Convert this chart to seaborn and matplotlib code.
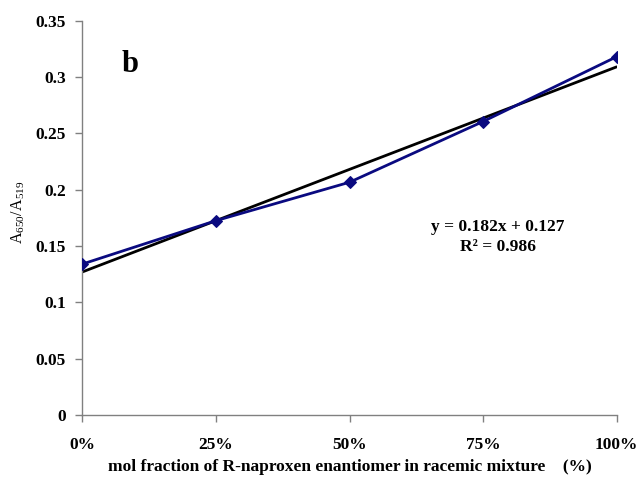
import matplotlib
matplotlib.use("Agg")
import matplotlib.pyplot as plt
import seaborn as sns
import numpy as np
import pandas as pd

# Measured absorbance ratio vs. mol fraction of R-naproxen
fraction_pct = [0, 25, 50, 75, 100]
ratio = [0.134, 0.1725, 0.2066, 0.2605, 0.318]
tick_labels = ["0%", "25%", "50%", "75%", "100%"]

# Linear trendline (x as fraction 0..1)
slope = 0.182
intercept = 0.127
r_squared = 0.986

sns.set_style("white")
plt.rcParams["font.family"] = ["Liberation Serif", "DejaVu Serif"]
plt.rcParams["mathtext.fontset"] = "custom"
plt.rcParams["mathtext.rm"] = "Liberation Serif"
plt.rcParams["mathtext.it"] = "Liberation Serif:italic"
plt.rcParams["text.color"] = "black"
plt.rcParams["axes.labelcolor"] = "black"
plt.rcParams["xtick.color"] = "black"
plt.rcParams["ytick.color"] = "black"

fig = plt.figure(figsize=(6.39, 4.83), dpi=100)
ax = fig.add_axes([0.129, 0.1408, 0.836, 0.8164])

df = pd.DataFrame({"x": fraction_pct, "y": ratio})
sns.lineplot(data=df, x="x", y="y", ax=ax, color="#0a0a80", linewidth=2,
             marker="D", markersize=6, markeredgecolor="#0a0a80", zorder=3)

trend_x = np.array([fraction_pct[0], fraction_pct[-1]])
trend_y = intercept + slope * trend_x / 100.0
ax.plot(trend_x, trend_y, color="black", linewidth=2, zorder=2)

ax.set_xlim(0, 100)
ax.set_ylim(0, 0.35)
ax.set_xticks(fraction_pct)
ax.set_xticklabels(tick_labels)
yticks = [0, 0.05, 0.1, 0.15, 0.2, 0.25, 0.3, 0.35]
ax.set_yticks(yticks)
ax.set_yticklabels(["0", "0.05", "0.1", "0.15", "0.2", "0.25", "0.3", "0.35"])

for lab in ax.get_xticklabels() + ax.get_yticklabels():
    lab.set_fontweight("bold")
    lab.set_fontsize(12.5)
    lab.set_color("black")

ax.tick_params(axis="both", direction="out", length=5, width=1, color="#808080",
               left=True, bottom=True)
ax.tick_params(axis="x", pad=11)
ax.tick_params(axis="y", pad=7)

for side in ["top", "right"]:
    ax.spines[side].set_visible(False)
for side in ["left", "bottom"]:
    ax.spines[side].set_color("#808080")
    ax.spines[side].set_linewidth(1)

ax.set_xlabel("mol fraction of R-naproxen enantiomer in racemic mixture    (%)",
              fontsize=12.5, fontweight="bold", labelpad=4)
ax.set_ylabel(r"A$_{650}$/A$_{519}$", fontsize=11.5)
ax.yaxis.set_label_coords(-0.104, 0.515)

ax.text(0.089, 0.89, "b", transform=ax.transAxes, fontsize=22,
        fontweight="bold", ha="center", va="center")
ax.text(0.778, 0.452, f"y = {slope}x + {intercept}\nR\u00b2 = {r_squared}",
        transform=ax.transAxes, fontsize=12.5, fontweight="bold",
        ha="center", va="center", linespacing=1.3)

fig.savefig("out.png", dpi=100, facecolor="white")
